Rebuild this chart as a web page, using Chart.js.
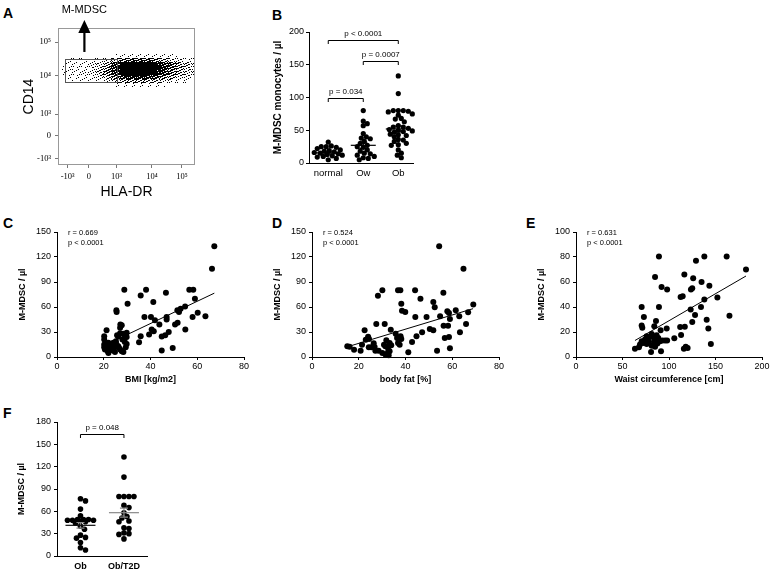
<!DOCTYPE html>
<html>
<head>
<meta charset="utf-8">
<title>M-MDSC</title>
<script src="https://cdn.jsdelivr.net/npm/chart.js@4.4.1/dist/chart.umd.min.js"></script>
<style>
  body { margin: 0; background: #fff; font-family: "Liberation Sans", Arial, sans-serif; }
  #page { position: relative; width: 774px; height: 575px; overflow: hidden; }
  .box { position: absolute; }
  .tag { position: absolute; font-size: 14px; font-weight: bold; line-height: 14px; }
</style>
</head>
<body>
<div id="page">
  <div class="tag" style="left:3px;top:6px">A</div>
  <div class="tag" style="left:272px;top:8px">B</div>
  <div class="tag" style="left:3px;top:216px">C</div>
  <div class="tag" style="left:272px;top:216px">D</div>
  <div class="tag" style="left:526px;top:216px">E</div>
  <div class="tag" style="left:3px;top:406px">F</div>

  <div class="box" style="left:0;top:0;width:210px;height:205px"><canvas id="chartA"></canvas></div>
  <div class="box" style="left:240px;top:0;width:190px;height:200px"><canvas id="chartB"></canvas></div>
  <div class="box" style="left:0;top:222px;width:255px;height:167px"><canvas id="chartC"></canvas></div>
  <div class="box" style="left:255px;top:222px;width:255px;height:167px"><canvas id="chartD"></canvas></div>
  <div class="box" style="left:519px;top:222px;width:255px;height:167px"><canvas id="chartE"></canvas></div>
  <div class="box" style="left:0;top:405px;width:160px;height:170px"><canvas id="chartF"></canvas></div>
</div>

<script>
// ---------- values ----------

// A: CD14 vs HLA-DR flow plot, axes in display channels (0-100)
const flowXTicks = [7.1, 22.6, 42.8, 68.6, 90.5];
const flowXLabels = ["-10³", "0", "10³", "10⁴", "10⁵"];
const flowYTicks = [4.9, 21.2, 37.2, 65, 89.6];
const flowYLabels = ["-10³", "0", "10³", "10⁴", "10⁵"];
// event density per 3x3-channel cell (0 empty .. 9 solid), one string per row, 33 cells from x = 0
const flowRowTop = [81, 78, 75, 72, 69, 66, 63, 60];
const flowDensity = [
  "000000000000001111111111111110000",
  "000101101112234556666665443222111",
  "001111112223467899999999876654332",
  "011211112234578999999999987654432",
  "011111212234578999999999876543322",
  "001111111223456788888877654432221",
  "000101011111223344444433322211110",
  "000000000000001111111111110000000"
];
const gateX = [5.1, 43];
const gateY = [60.6, 77.4];
const arrowX = 19.2;
const arrowY = [82.5, 105.8];

// B: M-MDSC monocytes / µl by weight group
const groupsB = ["normal", "Ow", "Ob"];
const normalB = [32, 26, 25, 25, 24, 22, 20, 19, 18, 17, 16, 15, 14, 13, 12, 11, 10, 9, 7, 5];
const owB = [80, 64, 60, 57, 45, 40, 38, 37, 33, 30, 27, 25, 24, 20, 18, 15, 14, 12, 10, 8, 7, 5];
const obB = [133, 106, 80, 80, 80, 79, 78, 75, 73, 68, 67, 63, 57, 55, 55, 53, 51, 50, 49, 48, 47, 44,
             43, 42, 40, 36, 35, 33, 30, 28, 27, 20, 15, 12, 8];
const meanB = [15.5, 27, 52];
const semB = [1.5, 4.7, 4.5];
const bracketFromB = [1, 2, 1];
const bracketToB = [3, 3, 2];
const bracketAtB = [188, 155, 100];
const bracketTextB = ["p < 0.0001", "p = 0.0007", "p = 0.034"];

// C: BMI
const bmiC = [67.3, 66.3, 28.8, 38.1, 56.6, 58.3, 46.6, 35.8, 59, 30.2, 41.2, 25.4, 25.5, 54.8, 52.9, 51.5,
  52.2, 60.2, 58, 63.5, 37.4, 40.2, 41.9, 46.9, 46.9, 51.6, 50.5, 43.8, 54.9, 40.5, 41.4, 39.4, 35.8, 35.1,
  47.8, 46.3, 44.8, 44.8, 49.5, 21.2, 20.2, 20.2, 20.2, 20.2, 20.5, 22, 22.7, 23.4, 24.1, 24.5, 25.7, 26.2,
  27, 27.1, 27.7, 27, 28.4, 29.8, 28, 29, 29.8, 25.2, 25.5, 26.2, 26.5, 22, 23.1, 24, 24.8, 27, 27.7, 29,
  29.8, 22.8, 23.8, 21.2, 21.7, 28.4, 29.4];
const mdscC = [133, 106, 80.6, 80.6, 80.6, 80.6, 77, 73.8, 70, 64, 66, 56, 54, 60.5, 58, 56,
  54, 53, 48, 48.8, 48, 48, 44, 48, 45, 41, 39, 39, 33, 33, 31, 27, 25, 17.7,
  30, 26, 24.6, 7.7, 10.9, 32, 25, 21, 15, 11.7, 9, 17, 15, 13, 17, 11, 26, 24.6,
  28.6, 39, 38, 35, 27.8, 29, 21, 23, 24, 19, 15, 13, 11, 4.8, 8.9, 7.7, 6, 9, 7, 18,
  15.7, 11, 11.7, 11, 7, 6, 11.7];
const fitCx = [20, 67.3];
const fitCy = [13.5, 76.6];

// D: body fat
const fatD = [54.4, 64.8, 30.1, 36.8, 37.8, 44.1, 28.2, 56.2, 46.4, 38.2, 51.9, 52.5, 69, 61.5, 38.5, 39.9,
  57.9, 58.6, 66.8, 54.8, 63, 44.2, 49, 59, 27.5, 31.1, 65.9, 56.3, 58.2, 50.4, 51.9, 63.3, 22.5, 33.7,
  37.9, 38.2, 35.8, 47.1, 44.7, 56.8, 58.6, 42.8, 59, 53.5, 41.2, 15.1, 16.1, 18, 20.8, 21.4, 23, 24,
  24.4, 24.3, 25.4, 26.8, 27.1, 28.5, 30.8, 31.4, 30.1, 31.5, 32.5, 33.2, 33.9, 32.5, 33.2, 32.8, 36.8,
  37.5, 36.4, 31.8, 26.4];
const mdscD = [133, 106, 80, 80, 80, 80, 73.6, 77, 70, 64, 66, 59.6, 63, 56, 55.6, 54,
  54.8, 52.8, 53.6, 48.8, 48.8, 48, 48, 45.6, 39.6, 39.6, 39.6, 37.6, 37.6, 33.6, 32, 29.6, 32, 32.8,
  24.8, 21.6, 28, 29.6, 24.8, 22.8, 24, 18, 10.4, 7.6, 5.6, 12.8, 12.4, 8.8, 7.6, 14.8, 20.8, 24.4,
  21.6, 11.6, 11.6, 12, 7.6, 7.6, 14.8, 12.8, 4.8, 2.8, 10.8, 16.8, 14, 5.6, 6.8, 2, 16.8,
  14.8, 22.8, 20, 16.4];
const fitDx = [15.8, 68.9];
const fitDy = [12.8, 58];

// E: waist circumference
const waistE = [89.2, 138, 162, 129, 182.8, 85, 116.5, 126, 135, 143.4, 92, 98, 123.6, 125, 152, 112.5,
  114.7, 138, 70.6, 89.2, 123.3, 134.4, 73, 128, 165, 86, 84.2, 70.6, 71.3, 97.5, 117, 112, 125, 140.5,
  142.3, 113, 105.7, 118, 120, 116, 145, 63.4, 67.7, 68.8, 70.6, 72.4, 74.2, 76, 77.8, 78.5, 81.4, 83.2,
  84.2, 86.7, 88.5, 85.6, 81.4, 85, 87.5, 80.7, 91.4, 90.3, 92.8, 95.7, 98, 91, 76];
const mdscE = [80.4, 80.4, 80.4, 77, 70, 64, 66, 63, 60, 57, 56, 54, 54, 55, 47.6, 48,
  48.7, 46, 40, 40, 38, 40, 32, 33.6, 33, 28.8, 24.7, 25.3, 23.4, 22.8, 24.2, 24, 28, 29.8,
  22.8, 17.7, 15, 8.3, 7.3, 6.7, 10.5, 6.7, 7.8, 10, 12.6, 11.3, 14, 16.7, 15.3, 12, 18.5, 15.9,
  12.6, 17.5, 15.3, 14, 9, 8.3, 10.8, 4, 4.6, 12.6, 13.2, 13.2, 13.2, 21.5, 10.5];
const fitEx = [63.4, 182.8];
const fitEy = [13.2, 64.8];

// F: obese without / with type 2 diabetes
const groupsF = ["Ob", "Ob/T2D"];
const obF = [77, 74, 63, 54, 49, 49, 48, 48, 49, 48, 47, 46, 44, 40, 36, 28, 25, 24, 18, 11, 8];
const t2dF = [133, 106, 80, 80, 80, 80, 68, 65, 58, 53, 51, 47, 46, 38, 37, 31, 30, 29, 23];
const meanF = [41.2, 58.2];
const semF = [3.8, 6];
const bracketFromF = [1];
const bracketToF = [2];
const bracketAtF = [163.5];
const bracketTextF = ["p = 0.048"];

// ---------- drawing ----------

Chart.defaults.font.family = "'Liberation Sans', Arial, sans-serif";
Chart.defaults.color = "#000";
Chart.defaults.animation = false;
Chart.defaults.maintainAspectRatio = false;
Chart.defaults.events = [];
Chart.defaults.plugins.legend.display = false;
Chart.defaults.plugins.tooltip.enabled = false;

const SANS = "'Liberation Sans', Arial, sans-serif";
const SERIF = "'Liberation Serif', 'DejaVu Serif', serif";

function zip(xs, ys) {
  return xs.map((x, i) => ({x: x, y: ys[i]}));
}

// lay dots of one group side by side, as close to the centre line as they fit
function swarm(values, center, pxX, pxY, radius, maxHalf) {
  const placed = [];
  const out = [];
  const minGap = radius * 1.7;
  const order = values.map((v, i) => i).sort((a, b) => values[b] - values[a]);
  order.forEach(i => {
    const py = values[i] * pxY;
    let best = 0, bestGap = -1;
    for (let k = 0; k <= maxHalf * 2; k++) {
      const off = (k % 2 ? 1 : -1) * Math.ceil(k / 2);
      let gap = Infinity;
      placed.forEach(p => { gap = Math.min(gap, Math.hypot(p.x - off, p.y - py)); });
      if (gap >= minGap) { best = off; break; }
      if (gap > bestGap) { bestGap = gap; best = off; }
    }
    placed.push({x: best, y: py});
    out[i] = {x: center + best / pxX, y: values[i]};
  });
  return out;
}

function numAxis(o) {
  return {
    type: "linear",
    min: o.min,
    max: o.max,
    ticks: {stepSize: o.step, font: {size: 9}, padding: o.pad, autoSkip: false, maxRotation: 0},
    grid: {drawOnChartArea: false, tickLength: 3, color: "#000"},
    border: {color: "#000"},
    title: {display: !!o.title, text: o.title, font: {size: o.titleSize || 9, weight: "bold"}, padding: {top: 4, bottom: 4}},
    afterFit: s => {
      if (o.width) s.width = o.width;
      if (o.height) s.height = o.height;
    }
  };
}

function groupAxis(labels, min, max, height, font) {
  return {
    type: "linear",
    min: min,
    max: max,
    afterBuildTicks: s => { s.ticks = labels.map((l, i) => ({value: i + 1})); },
    ticks: {callback: (v, i) => labels[i], font: font, padding: 5, autoSkip: false, maxRotation: 0},
    grid: {display: false, drawTicks: false},
    border: {color: "#000"},
    afterFit: s => { s.height = height; }
  };
}

function flowAxis(at, labels, title, fit) {
  return {
    type: "linear",
    min: 0,
    max: 100,
    afterBuildTicks: s => { s.ticks = at.map(v => ({value: v})); },
    ticks: {callback: (v, i) => labels[i], font: {family: SERIF, size: 8.5}, padding: 4, autoSkip: false, maxRotation: 0},
    grid: {drawOnChartArea: false, tickLength: 3, color: "#777"},
    border: {display: false},
    title: {display: true, text: title, font: {size: 14}, padding: {top: 4, bottom: 4}},
    afterFit: fit
  };
}

// stippled tile for one density level, so the cloud looks like single events
const stippleCache = {};
function stipple(ctx, d) {
  if (!stippleCache[d]) {
    const c = document.createElement("canvas");
    c.width = 8;
    c.height = 8;
    const g = c.getContext("2d");
    g.fillStyle = "#000";
    const n = Math.round(d / 9 * 64);
    for (let i = 0; i < n; i++) {
      const p = (i * 29) % 64;
      g.fillRect(p % 8, Math.floor(p / 8), 1, 1);
    }
    stippleCache[d] = ctx.createPattern(c, "repeat");
  }
  return stippleCache[d];
}

// event cloud, frame, gate and arrow of the flow plot
const flowDecor = {
  id: "flowDecor",
  beforeDatasetsDraw(chart) {
    const {ctx, scales: {x, y}} = chart;
    ctx.save();
    flowDensity.forEach((row, r) => {
      const y0 = Math.round(y.getPixelForValue(flowRowTop[r]));
      const y1 = Math.round(y.getPixelForValue(flowRowTop[r] - 3));
      row.split("").forEach((ch, c) => {
        const d = Number(ch);
        if (!d) return;
        const x0 = Math.round(x.getPixelForValue(3 * c));
        const x1 = Math.round(x.getPixelForValue(3 * c + 3));
        ctx.fillStyle = stipple(ctx, d);
        ctx.fillRect(x0, y0, x1 - x0, y1 - y0);
      });
    });
    ctx.restore();
  },
  afterDatasetsDraw(chart) {
    const {ctx, chartArea: a, scales: {x, y}} = chart;
    ctx.save();
    ctx.lineWidth = 1;
    ctx.strokeStyle = "#999";
    ctx.strokeRect(a.left + 0.5, a.top + 0.5, a.width - 1, a.height - 1);
    ctx.strokeStyle = "#555";
    const gx = gateX.map(v => Math.round(x.getPixelForValue(v)) + 0.5);
    const gy = gateY.map(v => Math.round(y.getPixelForValue(v)) + 0.5);
    ctx.strokeRect(gx[0], gy[1], gx[1] - gx[0], gy[0] - gy[1]);
    const ax = x.getPixelForValue(arrowX);
    const tail = y.getPixelForValue(arrowY[0]);
    const tip = y.getPixelForValue(arrowY[1]);
    ctx.fillStyle = "#000";
    ctx.fillRect(ax - 1, tip + 12, 2.2, tail - tip - 12);
    ctx.beginPath();
    ctx.moveTo(ax + 0.1, tip);
    ctx.lineTo(ax + 6.2, tip + 13);
    ctx.lineTo(ax - 6, tip + 13);
    ctx.closePath();
    ctx.fill();
    ctx.font = "11px " + SANS;
    ctx.textAlign = "center";
    ctx.textBaseline = "middle";
    ctx.fillText("M-MDSC", ax, tip - 10);
    ctx.restore();
  }
};

// mean ± SEM lines and p-value brackets of a dot plot
function dotSummary(means, sems, lineColors, barColors, halfPx, from, to, at, texts) {
  return {
    id: "dotSummary",
    afterDatasetsDraw(chart) {
      const {ctx, scales: {x, y}} = chart;
      ctx.save();
      ctx.lineWidth = 1.2;
      means.forEach((m, i) => {
        const cx = x.getPixelForValue(i + 1);
        const ym = y.getPixelForValue(m);
        const yt = y.getPixelForValue(m + sems[i]);
        const yb = y.getPixelForValue(m - sems[i]);
        ctx.strokeStyle = barColors[i];
        ctx.beginPath();
        ctx.moveTo(cx, yt); ctx.lineTo(cx, yb);
        ctx.moveTo(cx - 4, yt); ctx.lineTo(cx + 4, yt);
        ctx.moveTo(cx - 4, yb); ctx.lineTo(cx + 4, yb);
        ctx.stroke();
        ctx.strokeStyle = lineColors[i];
        ctx.beginPath();
        ctx.moveTo(cx - halfPx, ym); ctx.lineTo(cx + halfPx, ym);
        ctx.stroke();
      });
      ctx.lineWidth = 1;
      ctx.strokeStyle = "#000";
      ctx.fillStyle = "#000";
      ctx.font = "8px " + SANS;
      ctx.textAlign = "center";
      ctx.textBaseline = "middle";
      from.forEach((f, i) => {
        const x1 = x.getPixelForValue(f);
        const x2 = x.getPixelForValue(to[i]);
        const yy = Math.round(y.getPixelForValue(at[i])) + 0.5;
        ctx.beginPath();
        ctx.moveTo(x1, yy + 3.5); ctx.lineTo(x1, yy); ctx.lineTo(x2, yy); ctx.lineTo(x2, yy + 3.5);
        ctx.stroke();
        ctx.fillText(texts[i], (x1 + x2) / 2, yy - 7);
      });
      ctx.restore();
    }
  };
}

function corrText(r, p) {
  return {
    id: "corrText",
    afterDraw(chart) {
      const {ctx, chartArea: a} = chart;
      ctx.save();
      ctx.font = "7.5px " + SANS;
      ctx.textBaseline = "middle";
      ctx.fillStyle = "#000";
      ctx.fillText("r = " + r, a.left + 11, a.top + 1);
      ctx.fillText(p, a.left + 11, a.top + 11);
      ctx.restore();
    }
  };
}

// ---- A ----
new Chart(document.getElementById("chartA"), {
  type: "scatter",
  data: {datasets: [{data: []}]},
  options: {
    layout: {padding: {left: 17, top: 28, right: 15, bottom: 0}},
    scales: {
      x: flowAxis(flowXTicks, flowXLabels, "HLA-DR", s => { s.height = 40; }),
      y: flowAxis(flowYTicks, flowYLabels, "CD14", s => { s.width = 41; })
    }
  },
  plugins: [flowDecor]
});

// ---- B ----
const pxXB = 35, pxYB = 131.3 / 200;
new Chart(document.getElementById("chartB"), {
  type: "scatter",
  data: {
    datasets: [normalB, owB, obB].map((vals, g) => ({
      data: swarm(vals, g + 1, pxXB, pxYB, 2.6, 14),
      pointRadius: 2.6,
      backgroundColor: "#000",
      borderWidth: 0,
      clip: false
    }))
  },
  options: {
    layout: {padding: {left: 28, top: 32, right: 17, bottom: 0}},
    scales: {
      x: groupAxis(groupsB, 0.45, 3.42, 37, {size: 9.5}),
      y: numAxis({min: 0, max: 200, step: 50, pad: 2, width: 41, title: "M-MDSC monocytes / µl", titleSize: 10})
    }
  },
  plugins: [dotSummary(meanB, semB, ["#000", "#000", "#000"], ["#000", "#000", "#000"], 12.5,
    bracketFromB, bracketToB, bracketAtB, bracketTextB)]
});

// ---- C, D, E ----
function corrChart(id, xs, ys, fx, fy, xAxis, yAxis, r, padRight) {
  new Chart(document.getElementById(id), {
    type: "scatter",
    data: {
      datasets: [
        {data: zip(xs, ys), pointRadius: 3, backgroundColor: "#000", borderWidth: 0, clip: false},
        {data: zip(fx, fy), showLine: true, pointRadius: 0, borderColor: "#000", borderWidth: 1, clip: false}
      ]
    },
    options: {
      layout: {padding: {left: 13, top: 10, right: padRight, bottom: 0}},
      scales: {x: xAxis, y: yAxis}
    },
    plugins: [corrText(r, "p < 0.0001")]
  });
}

corrChart("chartC", bmiC, mdscC, fitCx, fitCy,
  numAxis({min: 0, max: 80, step: 20, pad: 1, height: 32, title: "BMI [kg/m2]"}),
  numAxis({min: 0, max: 150, step: 30, pad: 3, width: 44, title: "M-MDSC / µl"}),
  "0.669", 11);

corrChart("chartD", fatD, mdscD, fitDx, fitDy,
  numAxis({min: 0, max: 80, step: 20, pad: 1, height: 32, title: "body fat [%]"}),
  numAxis({min: 0, max: 150, step: 30, pad: 3, width: 44, title: "M-MDSC / µl"}),
  "0.524", 11);

corrChart("chartE", waistE, mdscE, fitEx, fitEy,
  numAxis({min: 0, max: 200, step: 50, pad: 1, height: 32, title: "Waist circumference [cm]"}),
  numAxis({min: 0, max: 100, step: 20, pad: 3, width: 44, title: "M-MDSC / µl"}),
  "0.631", 12);

// ---- F ----
const pxXF = 43.5, pxYF = 134 / 180;
new Chart(document.getElementById("chartF"), {
  type: "scatter",
  data: {
    datasets: [obF, t2dF].map((vals, g) => ({
      data: swarm(vals, g + 1, pxXF, pxYF, 2.8, 14),
      pointRadius: 2.8,
      backgroundColor: "#000",
      borderWidth: 0,
      clip: false
    }))
  },
  options: {
    layout: {padding: {left: 12, top: 17, right: 13, bottom: 0}},
    scales: {
      x: groupAxis(groupsF, 0.46, 2.53, 19, {size: 9, weight: "bold"}),
      y: numAxis({min: 0, max: 180, step: 30, pad: 3, width: 45, title: "M-MDSC / µl"})
    }
  },
  plugins: [dotSummary(meanF, semF, ["#111", "#8a8a8a"], ["#8a8a8a", "#8a8a8a"], 15,
    bracketFromF, bracketToF, bracketAtF, bracketTextF)]
});
</script>
</body>
</html>
